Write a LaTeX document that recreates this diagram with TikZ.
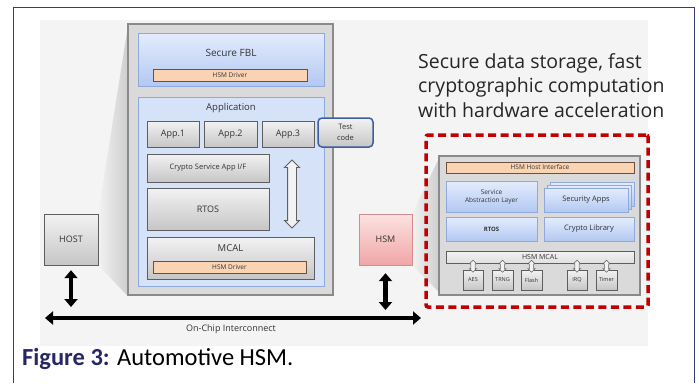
\documentclass[tikz,border=0pt]{standalone}
\usepackage{fontspec}
\setsansfont{Open Sans}
\newfontfamily\capfont{Carlito}
\usetikzlibrary{arrows.meta,shapes.arrows,backgrounds}
\definecolor{framecol}{HTML}{3C3A7C}
\definecolor{capnavy}{HTML}{272764}
\definecolor{bgpanel}{HTML}{F4F4F4}
\definecolor{chipgray}{HTML}{DADADA}
\definecolor{chipline}{HTML}{8A8A8A}
\definecolor{boxline}{HTML}{5E5E5E}
\definecolor{graytop}{HTML}{F2F2F2}
\definecolor{graybot}{HTML}{C6C6C6}
\definecolor{bluetop}{HTML}{E3ECFC}
\definecolor{bluebot}{HTML}{B3C8F2}
\definecolor{blueline}{HTML}{8EAADD}
\definecolor{appblue}{HTML}{D6E2F8}
\definecolor{drvorange}{HTML}{FAD3B3}
\definecolor{drvline}{HTML}{6B5040}
\definecolor{pinktop}{HTML}{FCE2E2}
\definecolor{pinkbot}{HTML}{F0A6A6}
\definecolor{pinkline}{HTML}{D48C8C}
\definecolor{hsmred}{HTML}{C00000}
\definecolor{testblue}{HTML}{3F5E9E}
\definecolor{labeltext}{HTML}{333333}

\begin{document}
\begin{tikzpicture}[x=1pt,y=-1pt]
	\tikzset{sz/.style 2 args={minimum width=#1,minimum height=#2}}
	\tikzset{graybox/.style={draw=boxline,top color=graytop,bottom color=graybot,inner sep=0pt,text=labeltext,font=\sffamily\fontsize{9}{10}\selectfont}}
	\tikzset{bluebox/.style={draw=blueline,top color=bluetop,bottom color=bluebot,inner sep=0pt,text=labeltext,align=center,font=\sffamily\fontsize{6.5}{8}\selectfont}}
	\tikzset{drvbar/.style={draw=drvline,fill=drvorange,inner sep=0pt,text=labeltext,font=\sffamily\fontsize{6.5}{8}\selectfont}}
	\tikzset{boxtitle/.style={text=labeltext,inner sep=0pt,font=\sffamily\fontsize{10}{12}\selectfont}}
	\tikzset{hollow/.style={double arrow,rotate=90,draw=gray!75!black,line width=0.9pt,fill=graytop,inner sep=4pt,double arrow head extend=3pt}}
	\tikzset{fatarrow/.style={line width=4.5pt,{Triangle[width=13pt,length=8pt]}-{Triangle[width=13pt,length=8pt]}}}
	\useasboundingbox (0,0) rectangle (699,383);
	\node (chip) [draw=chipline,line width=1.2pt,fill=chipgray,sz={205pt}{271pt}] at (230.5,159.5) {};
	\node (fbl) [bluebox,sz={186pt}{53pt}] at (231,59.5) {};
	\node (fbltext) [boxtitle] at (231,53) {Secure FBL};
	\node (fbldrv) [drvbar,sz={154pt}{12pt}] at (230,75) {HSM Driver};
	\node (app) [draw=blueline,fill=appblue,sz={186pt}{189pt}] at (231,191.5) {};
	\node (apptext) [boxtitle,font=\sffamily\fontsize{9.5}{11}\selectfont] at (231,108) {Application};
	\node (appone) [graybox,sz={52pt}{26pt}] at (173,134) {App.1};
	\node (apptwo) [graybox,sz={53pt}{26pt}] at (230.5,134) {App.2};
	\node (appthree) [graybox,sz={52pt}{26pt}] at (288,134) {App.3};
	\node (testcode) [graybox,draw=testblue,line width=1.5pt,rounded corners=4pt,align=center,font=\sffamily\fontsize{7.5}{10.5}\selectfont,sz={55pt}{29pt}] at (345.5,132.5) {Test\\code};
	\node (cryptoif) [graybox,font=\sffamily\fontsize{7.5}{9}\selectfont,sz={122pt}{28pt}] at (208,168) {Crypto Service App I/F};
	\node (rtos) [graybox,sz={122pt}{42pt}] at (208,209) {RTOS};
	\node (mcal) [graybox,sz={167pt}{42pt}] at (230.5,258) {};
	\node (mcaltext) [boxtitle,font=\sffamily\fontsize{9.5}{11}\selectfont] at (230.5,248) {MCAL};
	\node (mcaldrv) [drvbar,sz={153pt}{12pt}] at (229.5,267) {HSM Driver};
	\node (swap) [hollow,minimum height=68pt] at (292,194) {};

	\node (host) [graybox,sz={54pt}{51pt}] at (71,239.5) {HOST};
	\node (hsm) [graybox,draw=pinkline,top color=pinktop,bottom color=pinkbot,sz={53pt}{51pt}] at (385.5,239.5) {HSM};
	\coordinate (busw) at (45,318);
	\coordinate (buse) at (421,318);
	\coordinate (hostbus) at (host.south |- busw);
	\coordinate (hsmbus) at (hsm.south |- busw);
	\draw[fatarrow] (busw) -- (buse);
	\draw[fatarrow] ([yshift=-5pt]host.south) -- ([yshift=11pt]hostbus);
	\draw[fatarrow] ([yshift=-8pt]hsm.south) -- ([yshift=8pt]hsmbus);
	\node (bustext) [text=labeltext,font=\sffamily\fontsize{9}{11}\selectfont] at (231,329) {On-Chip Interconnect};

	\node (hsmnote) [anchor=north west,inner sep=0pt,align=left,text=black!85,font=\sffamily\fontsize{19.5}{24.5}\selectfont] at (418,53) {Secure data storage, fast\\cryptographic computation\\with hardware acceleration};
	\node (hsmframe) [draw=hsmred,line width=3.5pt,dash pattern=on 8pt off 4.5pt,rounded corners=2pt,sz={222pt}{172pt}] at (537,221) {};
	\node (hsmbox) [draw=chipline,line width=1.2pt,fill=chipgray,sz={201pt}{139pt}] at (539.5,225.5) {};
	\node (hostif) [drvbar,sz={188pt}{11pt}] at (540,167.5) {HSM Host Interface};
	\node (sal) [bluebox,sz={91pt}{31pt}] at (491.5,196.5) {Service\\Abstraction Layer};
	\node (secappsc) [bluebox,sz={84pt}{24pt}] at (592,194) {};
	\node (secappsb) [bluebox,sz={84pt}{24pt}] at (589,197) {};
	\node (secapps) [bluebox,font=\sffamily\fontsize{7.5}{9}\selectfont,sz={84pt}{24pt}] at (586,200) {Security Apps};
	\node (hsmrtos) [bluebox,font=\sffamily\bfseries\fontsize{6}{7}\selectfont,sz={91pt}{24pt}] at (491.5,229) {RTOS};
	\node (cryptolib) [bluebox,font=\sffamily\fontsize{7.5}{9}\selectfont,sz={90pt}{24pt}] at (589,229) {Crypto Library};
	\node (hsmmcal) [graybox,top color=graytop,bottom color=graytop!60!graybot,font=\sffamily\fontsize{7}{8}\selectfont,sz={188pt}{12pt}] at (540,257) {HSM MCAL};
	\node (aes) [graybox,font=\sffamily\fontsize{5.5}{6}\selectfont,sz={20pt}{20pt}] at (473,280) {AES};
	\node (trng) [graybox,font=\sffamily\fontsize{5.5}{6}\selectfont,sz={21pt}{20pt}] at (502.5,280) {TRNG};
	\node (flash) [graybox,font=\sffamily\fontsize{5.5}{6}\selectfont,sz={21pt}{20pt}] at (531.5,280) {Flash};
	\node (irq) [graybox,font=\sffamily\fontsize{5.5}{6}\selectfont,sz={20pt}{20pt}] at (577,280) {IRQ};
	\node (timer) [graybox,font=\sffamily\fontsize{5.5}{6}\selectfont,sz={21pt}{20pt}] at (606.5,280) {Timer};
	\foreach \p in {aes,trng,flash,irq,timer}
		\node (\p io) [hollow,line width=0.6pt,inner sep=1.8pt,minimum height=12pt,double arrow head extend=1.5pt] at ([yshift=3.5pt]\p.north) {};

	\node (caption) [anchor=base west,inner sep=0pt,font=\capfont\fontsize{24.5}{28}\selectfont] at (22,365) {\textcolor{capnavy}{\textbf{Figure 3:}} Automotive HSM.};

	\begin{pgfonlayer}{background}
		\draw[framecol,line width=1pt] (13,383) -- (13,7) -- (694,7) -- (694,383);
		\fill[bgpanel] (40,20) rectangle (648,346);
		\shade[left color=graytop,right color=graybot!85] (host.north east) -- ([yshift=-6pt]chip.north west) -- (chip.south west) -- (host.south east) -- cycle;
		\shade[left color=graytop,right color=graybot!85] (hsm.north east) -- ([yshift=-4pt]hsmbox.north west) -- ([yshift=4pt]hsmbox.south west) -- (hsm.south east) -- cycle;
	\end{pgfonlayer}
\end{tikzpicture}
\end{document}
